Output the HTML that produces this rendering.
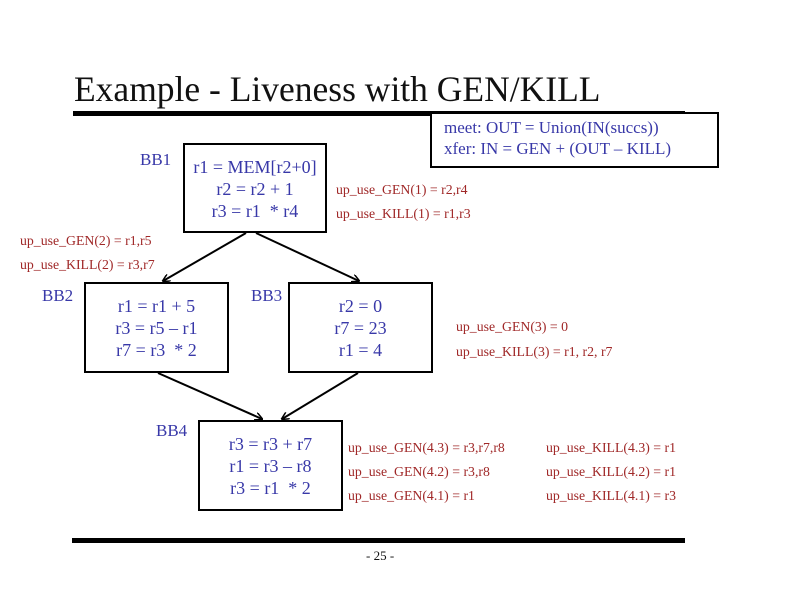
<!DOCTYPE html>
<html><head><style>
body{margin:0;width:792px;height:612px;background:#fff;position:relative;overflow:hidden;font-family:"Liberation Serif",serif}
.a{position:absolute;white-space:nowrap}
.box{position:absolute;border:2px solid #000;box-sizing:border-box;color:#3838a8;font-size:18px;text-align:center;line-height:22px}
.b{color:#3838a8;font-size:17px}
.r{color:#a02828;font-size:13.8px}
</style></head><body>
<div class="a" style="left:74px;top:68px;font-size:35.5px;color:#111">Example - Liveness with GEN/KILL</div>
<div class="a" style="left:73px;top:111px;width:612px;height:5px;background:#000"></div>
<div class="box" style="left:430px;top:112px;width:289px;height:56px;padding:3px 0 0 12px;line-height:21px;font-size:17px;text-align:left;background:#fff">meet: OUT = Union(IN(succs))<br>xfer: IN = GEN + (OUT – KILL)</div>
<div class="a b" style="left:140px;top:150px">BB1</div>
<div class="box" style="left:183px;top:143px;width:144px;height:90px;padding-top:11px">r1 = MEM[r2+0]<br>r2 = r2 + 1<br>r3 = r1 &nbsp;* r4</div>
<div class="a r" style="left:336px;top:182px">up_use_GEN(1) = r2,r4</div>
<div class="a r" style="left:336px;top:206px">up_use_KILL(1) = r1,r3</div>
<div class="a r" style="left:20px;top:233px">up_use_GEN(2) = r1,r5</div>
<div class="a r" style="left:20px;top:257px">up_use_KILL(2) = r3,r7</div>
<div class="a b" style="left:42px;top:286px">BB2</div>
<div class="box" style="left:84px;top:282px;width:145px;height:91px;padding-top:11px">r1 = r1 + 5<br>r3 = r5 – r1<br>r7 = r3 &nbsp;* 2</div>
<div class="a b" style="left:251px;top:286px">BB3</div>
<div class="box" style="left:288px;top:282px;width:145px;height:91px;padding-top:11px">r2 = 0<br>r7 = 23<br>r1 = 4</div>
<div class="a r" style="left:456px;top:319px">up_use_GEN(3) = 0</div>
<div class="a r" style="left:456px;top:344px">up_use_KILL(3) = r1, r2, r7</div>
<div class="a b" style="left:156px;top:421px">BB4</div>
<div class="box" style="left:198px;top:420px;width:145px;height:91px;padding-top:11px">r3 = r3 + r7<br>r1 = r3 – r8<br>r3 = r1 &nbsp;* 2</div>
<div class="a r" style="left:348px;top:440px">up_use_GEN(4.3) = r3,r7,r8</div>
<div class="a r" style="left:348px;top:464px">up_use_GEN(4.2) = r3,r8</div>
<div class="a r" style="left:348px;top:488px">up_use_GEN(4.1) = r1</div>
<div class="a r" style="left:546px;top:440px">up_use_KILL(4.3) = r1</div>
<div class="a r" style="left:546px;top:464px">up_use_KILL(4.2) = r1</div>
<div class="a r" style="left:546px;top:488px">up_use_KILL(4.1) = r3</div>
<div class="a" style="left:72px;top:538px;width:613px;height:5px;background:#000"></div>
<div class="a" style="left:366px;top:548px;font-size:13px;color:#111">- 25 -</div>
<svg class="a" style="left:0;top:0" width="792" height="612">
<defs><marker id="m" markerWidth="8" markerHeight="8" refX="7" refY="4" orient="auto" markerUnits="userSpaceOnUse"><path d="M0,0 L8,4 L0,8" fill="none" stroke="#000" stroke-width="1.5"/></marker></defs>
<g stroke="#000" stroke-width="2" marker-end="url(#m)">
<line x1="246" y1="233" x2="163" y2="281"/>
<line x1="256" y1="233" x2="359" y2="281"/>
<line x1="158" y1="373" x2="262" y2="419"/>
<line x1="358" y1="373" x2="282" y2="419"/>
</g></svg>
</body></html>
